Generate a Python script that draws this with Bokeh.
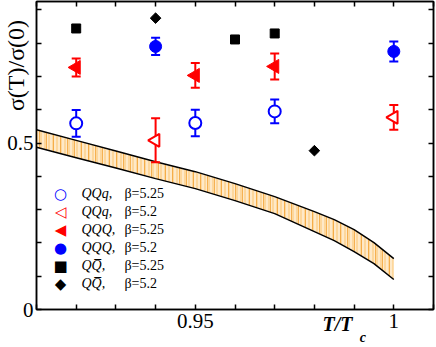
import numpy as np
from bokeh.plotting import figure
from bokeh.models import (ColumnDataSource, Whisker, TeeHead, Label,
                          LinearAxis, FixedTicker, CustomJSTickFormatter, Range1d)
from bokeh.embed import file_html
from bokeh.resources import INLINE

# ---- data ----
band_t = [0.91, 0.92, 0.93, 0.94, 0.95, 0.96, 0.97, 0.98, 0.985, 0.99, 0.995, 1.0]
band_hi = [0.540, 0.508, 0.476, 0.444, 0.414, 0.378, 0.339, 0.294, 0.270, 0.240, 0.201, 0.153]
band_lo = [0.487, 0.456, 0.425, 0.393, 0.363, 0.327, 0.288, 0.234, 0.207, 0.174, 0.138, 0.090]

qqq_525_t = [0.92, 0.95, 0.97]          # QQq, beta=5.25 (open blue circles)
qqq_525_v = [0.559, 0.560, 0.595]
qqq_525_e = [0.040, 0.040, 0.036]

qqq_52_t = [0.94, 1.0]                  # QQq, beta=5.2 (open red triangles)
qqq_52_v = [0.508, 0.577]
qqq_52_e = [0.066, 0.037]

QQQ_525_t = [0.92, 0.95, 0.97]          # QQQ, beta=5.25 (filled red triangles)
QQQ_525_v = [0.727, 0.703, 0.730]
QQQ_525_e = [0.027, 0.037, 0.039]

QQQ_52_t = [0.94, 1.0]                  # QQQ, beta=5.2 (filled blue circles)
QQQ_52_v = [0.790, 0.775]
QQQ_52_e = [0.026, 0.030]

qqb_525_t = [0.92, 0.96, 0.97]          # QQbar, beta=5.25 (squares)
qqb_525_v = [0.844, 0.811, 0.829]

qqb_52_t = [0.94, 0.98]                 # QQbar, beta=5.2 (diamonds)
qqb_52_v = [0.875, 0.477]

legend_marks = ["\u25cb", "\u25c1", "\u25c0", "\u25cf", "\u25a0", "\u25c6"]
legend_colors = ["#0000ff", "#ff0000", "#ff0000", "#0000ff", "black", "black"]
species = ["QQq,", "QQq,", "QQQ,", "QQQ,", "QQ\u0305,", "QQ\u0305,"]
betas = ["\u03b2=5.25", "\u03b2=5.2", "\u03b2=5.25", "\u03b2=5.2", "\u03b2=5.25", "\u03b2=5.2"]

x_ticks = [0.91, 0.92, 0.93, 0.94, 0.95, 0.96, 0.97, 0.98, 0.99, 1.0, 1.01]
y_ticks = [0.0, 0.1, 0.2, 0.3, 0.4, 0.5, 0.6, 0.7, 0.8, 0.9]

x_title = "T/T"
x_title_sub = "c"
y_title = "\u03c3(T)/\u03c3(0)"

SERIF = "Liberation Serif"
BLUE = "#0000ff"
RED = "#ff0000"
NB = "\u00a0"

p = figure(width=436, height=347, x_range=Range1d(0.91, 1.01), y_range=Range1d(0, 0.925),
           output_backend="svg", toolbar_location=None,
           min_border_left=35, min_border_right=3, min_border_top=1, min_border_bottom=38)
p.xgrid.visible = False
p.ygrid.visible = False
p.outline_line_color = "black"
p.outline_line_width = 1.5
p.background_fill_color = "white"
p.border_fill_color = "white"

xfmt = CustomJSTickFormatter(code="if (Math.abs(tick-0.95)<1e-6) return '0.95'; if (Math.abs(tick-1)<1e-6) return '1'; return '';")
yfmt = CustomJSTickFormatter(code="if (Math.abs(tick)<1e-6) return '0'; if (Math.abs(tick-0.5)<1e-6) return '0.5'; return '';")

def style_axis(ax, ticks, fmt, labels=True):
    ax.ticker = FixedTicker(ticks=ticks)
    ax.formatter = fmt
    ax.major_tick_in = 5
    ax.major_tick_out = 0
    ax.minor_tick_in = 0
    ax.minor_tick_out = 0
    ax.major_tick_line_width = 1.5
    ax.axis_line_width = 1.5
    ax.axis_line_color = "black"
    ax.major_tick_line_color = "black"
    ax.major_label_text_font = SERIF
    ax.major_label_text_color = "black"
    if labels:
        ax.major_label_text_font_size = "21px"
    else:
        ax.major_label_text_font_size = "0px"
        ax.major_label_standoff = 0

xa = p.xaxis[0]
style_axis(xa, x_ticks, xfmt)
xa.major_label_standoff = 4
xa.axis_label = NB * 41 + x_title
xa.axis_label_text_font = SERIF
xa.axis_label_text_font_size = "20px"
xa.axis_label_text_font_style = "bold italic"
xa.axis_label_text_color = "black"
xa.axis_label_standoff = -18

ya = p.yaxis[0]
style_axis(ya, y_ticks, yfmt)
ya.major_label_standoff = 3
ya.axis_label = NB * 30 + y_title
ya.axis_label_text_font = SERIF
ya.axis_label_text_font_size = "24px"
ya.axis_label_text_font_style = "normal"
ya.axis_label_text_color = "black"
ya.axis_label_standoff = -25

# second (invisible) bottom axis carrying the subscript "c"
sub_ax = LinearAxis(ticker=FixedTicker(ticks=[]), axis_line_color=None, major_tick_line_color=None,
                    minor_tick_line_color=None, major_label_text_font_size="0px",
                    major_label_standoff=0, major_tick_in=0, major_tick_out=0,
                    minor_tick_in=0, minor_tick_out=0,
                    axis_label=NB * 73 + x_title_sub, axis_label_text_font=SERIF,
                    axis_label_text_font_size="14px", axis_label_text_font_style="bold italic",
                    axis_label_text_color="black", axis_label_standoff=-8)
p.add_layout(sub_ax, "below")

top = LinearAxis()
style_axis(top, x_ticks, CustomJSTickFormatter(code="return '';"), labels=False)
p.add_layout(top, "above")
right = LinearAxis()
style_axis(right, y_ticks, CustomJSTickFormatter(code="return '';"), labels=False)
p.add_layout(right, "right")

# ---- band (pale orange with light and orange vertical streaks) ----
band = p.varea(x=band_t, y1=band_lo, y2=band_hi, fill_color="#fdd79c",
               hatch_pattern="|", hatch_color="white", hatch_alpha=0.75, hatch_scale=4, hatch_weight=1.2)
band2 = p.varea(x=band_t, y1=band_lo, y2=band_hi, fill_alpha=0,
                hatch_pattern="|", hatch_color="#f2a235", hatch_alpha=0.8, hatch_scale=7, hatch_weight=1)
band.level = "underlay"
band2.level = "underlay"
l1 = p.line(band_t, band_hi, line_color="black", line_width=1.5)
l2 = p.line(band_t, band_lo, line_color="black", line_width=1.5)
l1.level = "underlay"
l2.level = "underlay"

def err_src(t, v, e):
    return ColumnDataSource(dict(t=t, v=v, lo=[a - b for a, b in zip(v, e)], hi=[a + b for a, b in zip(v, e)]))

def add_whisker(src, color):
    w = Whisker(source=src, base="t", lower="lo", upper="hi", line_color=color, line_width=2,
                lower_head=TeeHead(size=9, line_color=color, line_width=2),
                upper_head=TeeHead(size=9, line_color=color, line_width=2), level="underlay")
    p.add_layout(w)

s1 = err_src(qqq_525_t, qqq_525_v, qqq_525_e)
s2 = err_src(qqq_52_t, qqq_52_v, qqq_52_e)
s3 = err_src(QQQ_525_t, QQQ_525_v, QQQ_525_e)
s4 = err_src(QQQ_52_t, QQQ_52_v, QQQ_52_e)
add_whisker(s1, BLUE)
add_whisker(s2, RED)
add_whisker(s3, RED)
add_whisker(s4, BLUE)

p.scatter("t", "v", source=s1, marker="circle", size=12, fill_color="white", line_color=BLUE, line_width=2)
p.scatter("t", "v", source=s2, marker="triangle", angle=np.pi / 2, size=13, fill_color="white", line_color=RED, line_width=2)
p.scatter("t", "v", source=s3, marker="triangle", angle=np.pi / 2, size=14, fill_color=RED, line_color=RED, line_width=1)
p.scatter("t", "v", source=s4, marker="circle", size=12, fill_color=BLUE, line_color=BLUE, line_width=1)
p.scatter(qqb_525_t, qqb_525_v, marker="square", size=9, fill_color="black", line_color="black")
p.scatter(qqb_52_t, qqb_52_v, marker="square", angle=np.pi / 4, size=7.5, fill_color="black", line_color="black")

# ---- legend (marker symbol, species, beta) ----
for i in range(len(species)):
    ys = 116 - 18 * i
    p.add_layout(Label(x=24, y=ys, x_units="screen", y_units="screen", text=legend_marks[i],
                       text_font="DejaVu Sans", text_font_size="15px", text_baseline="middle",
                       text_align="center", text_color=legend_colors[i]))
    p.add_layout(Label(x=45, y=ys, x_units="screen", y_units="screen", text=species[i],
                       text_font=SERIF, text_font_size="14px", text_font_style="italic",
                       text_baseline="middle", text_align="left", text_color="black"))
    p.add_layout(Label(x=88, y=ys, x_units="screen", y_units="screen", text=betas[i],
                       text_font=SERIF, text_font_size="14px", text_baseline="middle",
                       text_align="left", text_color="black"))

open("out.html", "w").write(file_html(p, INLINE))
